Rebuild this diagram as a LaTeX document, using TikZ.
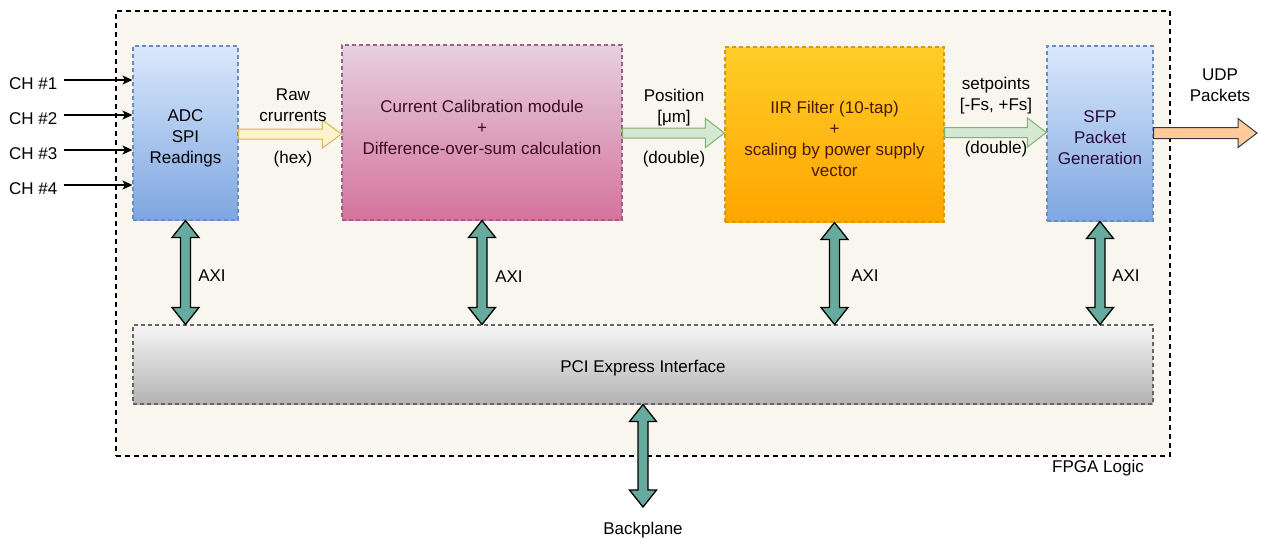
\documentclass[tikz,border=0pt]{standalone}
\usepackage{fontspec}
\setmainfont{Liberation Sans}
\usetikzlibrary{arrows.meta,calc}

\definecolor{fpgabg}{HTML}{F8F6EE}
\definecolor{bluetop}{HTML}{DAE8FC}
\definecolor{bluebot}{HTML}{7EA6E0}
\definecolor{blueline}{HTML}{6C8EBF}
\definecolor{pinktop}{HTML}{E6D0DE}
\definecolor{pinkbot}{HTML}{D5739D}
\definecolor{pinkline}{HTML}{996185}
\definecolor{orangetop}{HTML}{FFCD28}
\definecolor{orangebot}{HTML}{FFA500}
\definecolor{orangeline}{HTML}{D79B00}
\definecolor{greytop}{HTML}{F5F5F5}
\definecolor{greybot}{HTML}{B3B3B3}
\definecolor{greyline}{HTML}{666666}
\definecolor{yellowfill}{HTML}{FFF2CC}
\definecolor{yellowline}{HTML}{D6B656}
\definecolor{greenfill}{HTML}{D5E8D4}
\definecolor{greenline}{HTML}{82B366}
\definecolor{peachfill}{HTML}{FFCC99}
\definecolor{peachline}{HTML}{36393D}
\definecolor{axifill}{HTML}{67AB9F}
\definecolor{pinktext}{HTML}{3A0A26}
\definecolor{orangetext}{HTML}{4A1A00}
\definecolor{bluetext}{HTML}{2A0A36}

\tikzset{
  txt/.style={font=\fontsize{17}{21}\selectfont, align=center, inner sep=0pt},
  block/.style={draw, line width=1.1pt, dash pattern=on 4pt off 3pt, shading=axis, shading angle=0, inner sep=0pt},
  fpga/.style={draw=black, line width=1.4pt, dash pattern=on 5pt off 4pt, fill=fpgabg, inner sep=0pt},
  flowyellow/.style={fill=yellowfill, draw=yellowline, line width=1pt, line join=miter},
  flowgreen/.style={fill=greenfill, draw=greenline, line width=1pt, line join=miter},
  flowpeach/.style={fill=peachfill, draw=peachline, line width=1pt, line join=miter},
  axiarrow/.style={fill=axifill, draw=black, line width=1.3pt, line join=miter},
  chline/.style={draw=black, line width=1.2pt, -{Stealth[length=10pt,width=9pt,inset=2.5pt]}},
}

% horizontal block arrow: style, tail point, tip point, half shaft, half head
\newcommand\flowarrow[5]{%
  \path[#1] let \p1=(#2), \p2=(#3) in
    ({\x1},{\y1+#4}) -- ({\x2-19pt},{\y1+#4}) -- ({\x2-19pt},{\y1+#5}) --
    ({\x2},{\y1}) -- ({\x2-19pt},{\y1-#5}) -- ({\x2-19pt},{\y1-#4}) --
    ({\x1},{\y1-#4}) -- cycle;}

% vertical double-headed block arrow: upper tip, lower tip
\newcommand\busarrow[2]{%
  \path[axiarrow] let \p1=(#1), \p2=(#2) in
    ({\x1},{\y1}) -- ({\x1+13.5pt},{\y1-17pt}) -- ({\x1+5pt},{\y1-17pt}) --
    ({\x1+5pt},{\y2+17pt}) -- ({\x1+13.5pt},{\y2+17pt}) -- ({\x1},{\y2}) --
    ({\x1-13.5pt},{\y2+17pt}) -- ({\x1-5pt},{\y2+17pt}) --
    ({\x1-5pt},{\y1-17pt}) -- ({\x1-13.5pt},{\y1-17pt}) -- cycle;}

\begin{document}
\begin{tikzpicture}[x=1pt, y=-1pt]
\useasboundingbox (0,0) rectangle (1261,542);

% FPGA container
\node[fpga, minimum width=1054pt, minimum height=445pt] (fpga) at (643,233.5) {};
\node[txt] (fpgalabel) at (1098,468) {FPGA Logic};

% processing blocks
\node[block, draw=blueline, top color=bluetop, bottom color=bluebot,
      minimum width=105pt, minimum height=174pt] (adc) at (185.5,133) {};
\node[block, draw=pinkline, top color=pinktop, bottom color=pinkbot,
      minimum width=280pt, minimum height=175pt] (calib) at (482,132.5) {};
\node[block, draw=orangeline, top color=orangetop, bottom color=orangebot,
      minimum width=219pt, minimum height=175pt] (iir) at (834.5,134.5) {};
\node[block, draw=blueline, top color=bluetop, bottom color=bluebot,
      minimum width=106pt, minimum height=175pt] (sfp) at (1100,133.5) {};
\node[block, draw=greyline, top color=greytop, bottom color=greybot,
      minimum width=1020pt, minimum height=79pt] (pci) at (643,364.5) {};

% block captions
\node[txt] (adctext) at (185.5,138) {ADC\\SPI\\Readings};
\node[txt, text=pinktext] (calibtext) at (482,127.5)
      {Current Calibration module\\+\\Difference-over-sum calculation};
\node[txt, text=orangetext] (iirtext) at (834.5,139)
      {IIR Filter (10-tap)\\+\\scaling by power supply\\vector};
\node[txt, text=bluetext] (sfptext) at (1100,138) {SFP\\Packet\\Generation};
\node[txt] (pcitext) at (643,368.5) {PCI Express Interface};

% input channels
\foreach \i/\y in {1/80,2/115,3/150,4/185}{
  \node[txt, anchor=west] (ch\i) at (9,\y+4) {CH \#\i};
  \draw[chline] ([xshift=6pt]ch\i.east |- 0,\y) -- (adc.west |- 0,\y);
}

% data flow arrows
\coordinate (udpend) at (1257,133);
\flowarrow{flowyellow}{[yshift=-1pt]adc.east}{[yshift=-1pt]adc.east -| calib.west}{5pt}{14pt}
\flowarrow{flowgreen}{[yshift=-0.5pt]calib.east}{[yshift=-0.5pt]calib.east -| iir.west}{5pt}{14.5pt}
\flowarrow{flowgreen}{[yshift=2pt]iir.east}{[yshift=2pt]iir.east -| sfp.west}{5pt}{14.5pt}
\flowarrow{flowpeach}{sfp.east |- udpend}{udpend}{5.5pt}{14.5pt}

% data flow labels
\node[txt] (rawlbl) at (293,105.5) {Raw\\crurrents};
\node[txt] (hexlbl) at (293,159) {(hex)};
\node[txt] (poslbl) at (674,108) {Position\\{[μm]}};
\node[txt] (dbl1) at (674,159) {(double)};
\node[txt] (splbl) at (996,96) {setpoints\\{[-Fs, +Fs]}};
\node[txt] (dbl2) at (996,149) {(double)};
\node[txt] (udplbl) at (1220,85.5) {UDP\\Packets};

% AXI links to the PCI Express block
\busarrow{adc.south}{adc.south |- pci.north}
\busarrow{calib.south}{calib.south |- pci.north}
\busarrow{iir.south}{iir.south |- pci.north}
\busarrow{sfp.south}{sfp.south |- pci.north}
\node[txt] (axi1) at (212,276) {AXI};
\node[txt] (axi2) at (509,277) {AXI};
\node[txt] (axi3) at (865,276) {AXI};
\node[txt] (axi4) at (1126,276) {AXI};

% backplane link
\coordinate (bpend) at (643,507);
\busarrow{pci.south}{bpend}
\node[txt] (bplbl) at (643,530) {Backplane};
\end{tikzpicture}
\end{document}
